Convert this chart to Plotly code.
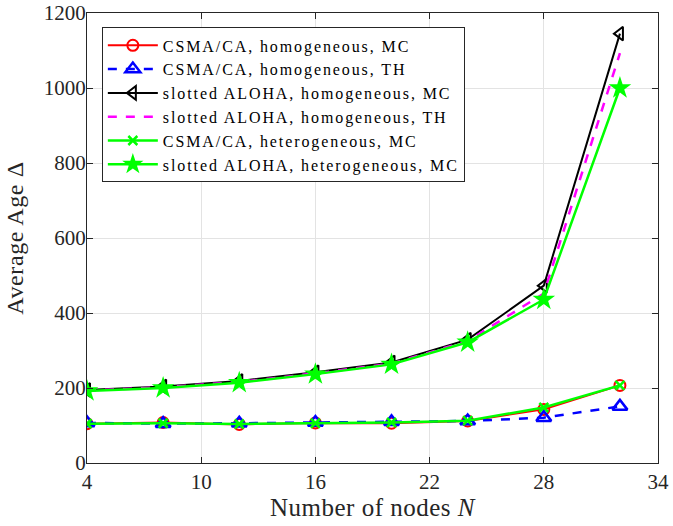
import plotly.graph_objects as go

N = [4, 8, 12, 16, 20, 24, 28, 32]
csma_hom_mc = [105, 108, 103, 107, 106, 112, 143, 207]
csma_hom_th = [107, 105, 106, 108, 110, 112, 121, 151]
aloha_hom_mc = [195, 204, 219, 242, 268, 329, 473, 1145]
aloha_hom_th = [193, 202, 216, 239, 265, 325, 452, 1093]
csma_het_mc = [105, 106, 104, 106, 108, 113, 148, 207]
aloha_het_mc = [192, 200, 214, 237, 263, 322, 436, 1000]

names = [
    "CSMA/CA, homogeneous, MC",
    "CSMA/CA, homogeneous, TH",
    "slotted ALOHA, homogeneous, MC",
    "slotted ALOHA, homogeneous, TH",
    "CSMA/CA, heterogeneous, MC",
    "slotted ALOHA, heterogeneous, MC",
]

def spaced(t, px):
    return f'<span style="letter-spacing:{px}px">{t}</span>'

FONT = "Liberation Serif"
LS = 1.9
fig = go.Figure()

fig.add_trace(go.Scatter(x=N, y=csma_hom_mc, name=spaced(names[0], LS), mode="lines+markers",
                         line=dict(color="#ff0000", width=2),
                         marker=dict(symbol="circle-open", size=11, color="#ff0000", line=dict(width=2))))
fig.add_trace(go.Scatter(x=N, y=csma_hom_th, name=spaced(names[1], LS), mode="lines+markers",
                         line=dict(color="#0000ff", width=2.5, dash="dash"),
                         marker=dict(symbol="triangle-up-open", size=13, color="#0000ff", line=dict(width=2.5))))
fig.add_trace(go.Scatter(x=N, y=aloha_hom_mc, name=spaced(names[2], LS), mode="lines+markers",
                         line=dict(color="#000000", width=2),
                         marker=dict(symbol="triangle-left-open", size=12, color="#000000", line=dict(width=2))))
fig.add_trace(go.Scatter(x=N, y=aloha_hom_th, name=spaced(names[3], LS), mode="lines",
                         line=dict(color="#ff00ff", width=2.5, dash="dash")))
fig.add_trace(go.Scatter(x=N, y=csma_het_mc, name=spaced(names[4], LS), mode="lines+markers",
                         line=dict(color="#00ff00", width=2.5),
                         marker=dict(symbol="x-thin-open", size=9, color="#00ff00", line=dict(width=2.5, color="#00ff00"))))
fig.add_trace(go.Scatter(x=N, y=aloha_het_mc, name=spaced(names[5], LS), mode="lines+markers",
                         line=dict(color="#00ff00", width=2.5),
                         marker=dict(symbol="star", size=17, color="#00ff00")))

axis_common = dict(
    showgrid=True, gridcolor="#e3e3e3", gridwidth=1,
    showline=True, linecolor="#262626", linewidth=1, mirror="allticks",
    ticks="inside", ticklen=6, tickcolor="#262626",
    tickfont=dict(family=FONT, size=21, color="#262626"),
    zeroline=False, automargin=False,
)

fig.update_layout(
    width=673, height=526,
    paper_bgcolor="white", plot_bgcolor="white",
    margin=dict(l=87, r=15, t=13, b=63),
    font=dict(family=FONT, color="#262626"),
    xaxis=dict(range=[4, 34], tickvals=[4, 10, 16, 22, 28, 34],
               title=dict(text=spaced("Number of nodes <i>N</i>", 0.5), font=dict(family=FONT, size=25), standoff=4),
               **axis_common),
    yaxis=dict(range=[0, 1200], tickvals=[0, 200, 400, 600, 800, 1000, 1200],
               title=dict(text=spaced("Average Age Δ", 0.6), font=dict(family=FONT, size=24), standoff=13),
               ticklabelstandoff=-4,
               **axis_common),
    legend=dict(x=0.026, y=0.968, xanchor="left", yanchor="top",
                bgcolor="white", bordercolor="#262626", borderwidth=1,
                font=dict(family=FONT, size=16, color="#000000"),
                tracegroupgap=0, itemwidth=50),
    showlegend=True,
)

fig.write_html("out.html", config={"displayModeBar": False},
               post_script="document.body.style.margin='0';")
